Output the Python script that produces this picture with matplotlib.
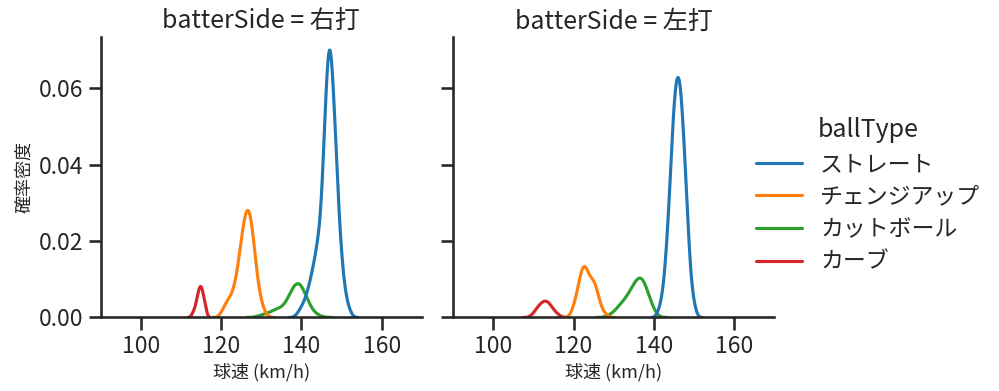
import numpy as np
import pandas as pd
import matplotlib
matplotlib.use('Agg')
import matplotlib.pyplot as plt
import seaborn as sns

# 球種と打席
ball_types = ['ストレート', 'チェンジアップ', 'カットボール', 'カーブ']
batter_sides = ['右打', '左打']

# 右打 : 球速 (km/h) と投球数
r_straight_kmh = [139, 140, 141, 142, 143, 144, 145, 146, 147, 148, 149, 150, 151, 152]
r_straight_n = [1, 3, 5, 9, 14, 20, 28, 59, 80, 62, 35, 16, 6, 2]
r_change_kmh = [120, 121, 122, 123, 124, 125, 126, 127, 128, 129, 130, 131]
r_change_n = [1, 4, 5, 7, 12, 21, 29, 31, 22, 10, 4, 1]
r_cutter_kmh = [130, 131, 132, 133, 134, 135, 136, 137, 138, 139, 140, 141, 142, 143, 144]
r_cutter_n = [1, 1, 1, 2, 3, 2, 3, 6, 9, 11, 10, 6, 3, 1, 1]
r_curve_kmh = [113.0, 113.5, 114.0, 114.5, 115.0, 115.5, 116.0]
r_curve_n = [1, 1, 3, 4, 5, 3, 2]

# 左打 : 球速 (km/h) と投球数
l_straight_kmh = [141.0, 141.5, 142.0, 142.5, 143.0, 143.5, 144.0, 144.5, 145.0, 145.5,
                  146.0, 146.5, 147.0, 147.5, 148.0, 148.5, 149.0, 149.5, 150.0, 150.5]
l_straight_n = [1, 1, 3, 4, 8, 12, 17, 23, 29, 32, 33, 33, 29, 24, 19, 13, 7, 4, 2, 1]
l_change_kmh = [120, 121, 122, 123, 124, 125, 126, 127, 128]
l_change_n = [3, 7, 14, 15, 10, 11, 7, 2, 1]
l_cutter_kmh = [129, 130, 131, 132, 133, 134, 135, 136, 137, 138, 139, 140]
l_cutter_n = [1, 1, 3, 4, 5, 7, 9, 11, 12, 9, 5, 2]
l_curve_kmh = [110, 111, 112, 113, 114, 115, 116]
l_curve_n = [1, 3, 4, 5, 4, 2, 1]

grupos = [
    ('右打', 'ストレート', r_straight_kmh, r_straight_n),
    ('右打', 'チェンジアップ', r_change_kmh, r_change_n),
    ('右打', 'カットボール', r_cutter_kmh, r_cutter_n),
    ('右打', 'カーブ', r_curve_kmh, r_curve_n),
    ('左打', 'ストレート', l_straight_kmh, l_straight_n),
    ('左打', 'チェンジアップ', l_change_kmh, l_change_n),
    ('左打', 'カットボール', l_cutter_kmh, l_cutter_n),
    ('左打', 'カーブ', l_curve_kmh, l_curve_n),
]

filas = []
for side, tipo, kmh, n in grupos:
    for v in np.repeat(kmh, n):
        filas.append({'batterSide': side, 'ballType': tipo, 'speed': v})
df = pd.DataFrame(filas)

sns.set_theme(context='talk', style='ticks')
plt.rcParams['font.family'] = ['Noto Sans CJK JP', 'DejaVu Sans']

g = sns.displot(data=df, x='speed', hue='ballType', col='batterSide',
                kind='kde', hue_order=ball_types, col_order=batter_sides,
                palette='tab10')
g.set_axis_labels('球速 (km/h)', '確率密度', fontsize=13)
g.set(xlim=(90, 170), xticks=[100, 120, 140, 160])

g.figure.set_size_inches(9.99, 3.91)
g.figure.subplots_adjust(left=0.1011, right=0.7748, bottom=0.188, top=0.906, wspace=0.0985)
sns.move_legend(g, 'center left', bbox_to_anchor=(0.736, 0.50), frameon=False,
                labelspacing=0.42)

g.figure.savefig('out.png', dpi=100)
